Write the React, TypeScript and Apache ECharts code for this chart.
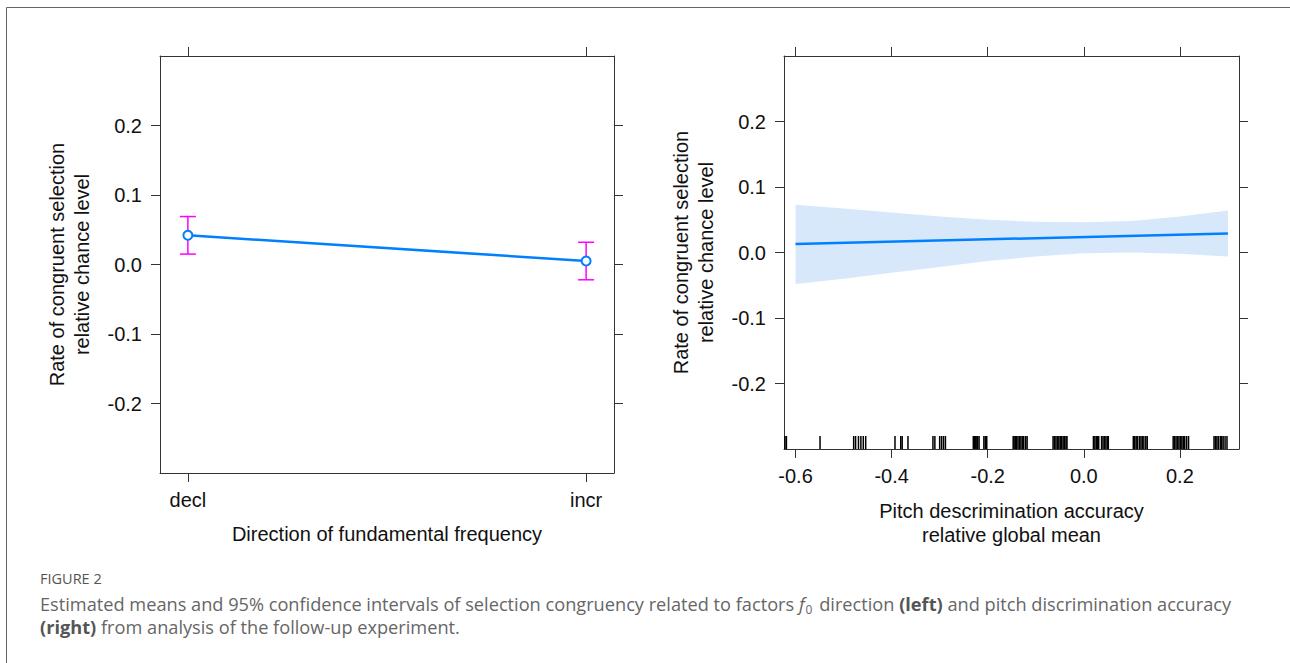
import React, { useEffect, useRef } from "react";
import * as echarts from "echarts";

// ---- Left panel: f0 direction ----
const directionCategories = ["decl", "incr"];
const directionPositions = [1, 2];
const directionEstimates = [0.042, 0.005];
const directionLower = [0.015, -0.022];
const directionUpper = [0.069, 0.032];

// ---- Shared y ticks ----
const yTickValues = [-0.2, -0.1, 0.0, 0.1, 0.2];

// ---- Right panel: pitch discrimination accuracy ----
const pitchTickValues = [-0.6, -0.4, -0.2, 0.0, 0.2];
const pitchFitX = [-0.6, 0.3];
const pitchFitY = [0.013, 0.029];
const pitchBandX = [-0.6, -0.5, -0.4, -0.3, -0.2, -0.1, 0.0, 0.1, 0.2, 0.3];
const pitchBandUpper = [0.073, 0.067, 0.061, 0.055, 0.05, 0.047, 0.046, 0.048, 0.055, 0.064];
const pitchBandLower = [-0.048, -0.04, -0.031, -0.022, -0.013, -0.006, -0.001, 0.0, -0.002, -0.006];
const pitchRug = [
  -0.622, -0.619,
  -0.549,
  -0.479, -0.475, -0.469, -0.464, -0.459, -0.454,
  -0.393, -0.381, -0.378, -0.366,
  -0.314, -0.310, -0.300, -0.296, -0.292, -0.288,
  -0.230, -0.228, -0.226, -0.224, -0.221, -0.218, -0.208, -0.205, -0.202,
  -0.147, -0.145, -0.142, -0.140, -0.137, -0.134, -0.131, -0.128, -0.125, -0.121, -0.118,
  -0.064, -0.061, -0.058, -0.055, -0.052, -0.049, -0.046, -0.043, -0.040, -0.037, -0.035,
  0.020, 0.023, 0.026, 0.029, 0.031, 0.037, 0.040, 0.043, 0.046, 0.049, 0.051,
  0.103, 0.106, 0.109, 0.112, 0.116, 0.119, 0.122, 0.125, 0.129, 0.132,
  0.186, 0.189, 0.192, 0.195, 0.198, 0.201, 0.204, 0.207, 0.210, 0.214, 0.218,
  0.271, 0.274, 0.277, 0.280, 0.284, 0.287, 0.290, 0.294, 0.298,
];

const Y_MIN = -0.3;
const Y_MAX = 0.3;

const FONT = "'Liberation Sans', Arial, Helvetica, sans-serif";
const CAPTION_FONT = "'Open Sans', 'Noto Sans', sans-serif";
const BOX = "#333333";
const BLUE = "#0080ff";
const MAGENTA = "#ff00ff";
const CAP_SIZE = 18.2;

const fmt = (v: number) => (Math.abs(v) < 1e-9 ? "0.0" : v.toFixed(1));

function makeX(gridIndex: number, position: "top" | "bottom", min: number, max: number, ticks: number[], labels: boolean, formatter?: (v: number) => string) {
  return {
    type: "value",
    gridIndex,
    position,
    min,
    max,
    axisLine: { show: true, onZero: false, lineStyle: { color: BOX, width: 1 } },
    axisTick: { show: true, length: 9, customValues: ticks, lineStyle: { color: BOX, width: 1 } },
    axisLabel: labels
      ? { show: true, customValues: ticks, formatter, fontSize: 20, fontFamily: FONT, color: "#111", margin: 17 }
      : { show: false },
    splitLine: { show: false },
  };
}

function makeY(gridIndex: number, position: "left" | "right", labels: boolean) {
  return {
    type: "value",
    gridIndex,
    position,
    min: Y_MIN,
    max: Y_MAX,
    axisLine: { show: true, onZero: false, lineStyle: { color: BOX, width: 1 } },
    axisTick: { show: true, length: 9, customValues: yTickValues, lineStyle: { color: BOX, width: 1 } },
    axisLabel: labels
      ? { show: true, customValues: yTickValues, formatter: fmt, fontSize: 20, fontFamily: FONT, color: "#111", margin: 18 }
      : { show: false },
    splitLine: { show: false },
  };
}

export default function App() {
  const ref = useRef<HTMLDivElement>(null);

  useEffect(() => {
    if (!ref.current) return;
    const chart = echarts.init(ref.current, null, { renderer: "svg" });

    const catFormatter = (v: number) => {
      const i = directionPositions.indexOf(v);
      return i >= 0 ? directionCategories[i] : "";
    };

    const option: any = {
      animation: false,
      backgroundColor: "#ffffff",
      textStyle: { fontFamily: FONT },
      grid: [
        { left: 160, top: 56, width: 454, height: 417 },
        { left: 784, top: 56, width: 455, height: 393 },
      ],
      xAxis: [
        makeX(0, "bottom", 0.93, 2.07, directionPositions, true, catFormatter),
        makeX(0, "top", 0.93, 2.07, directionPositions, false),
        makeX(1, "bottom", -0.624, 0.323, pitchTickValues, true, fmt),
        makeX(1, "top", -0.624, 0.323, pitchTickValues, false),
      ],
      yAxis: [
        makeY(0, "left", true),
        makeY(0, "right", false),
        makeY(1, "left", true),
        makeY(1, "right", false),
      ],
      series: [
        {
          name: "CI",
          type: "custom",
          xAxisIndex: 0,
          yAxisIndex: 0,
          z: 3,
          data: directionPositions.map((x, i) => [x, directionLower[i], directionUpper[i]]),
          renderItem: (params: any, api: any) => {
            const x = api.value(0);
            const lo = api.coord([x, api.value(1)]);
            const hi = api.coord([x, api.value(2)]);
            const w = 8;
            const style = { stroke: MAGENTA, lineWidth: 1.5 };
            return {
              type: "group",
              children: [
                { type: "line", shape: { x1: lo[0], y1: lo[1], x2: hi[0], y2: hi[1] }, style },
                { type: "line", shape: { x1: lo[0] - w, y1: lo[1], x2: lo[0] + w, y2: lo[1] }, style },
                { type: "line", shape: { x1: hi[0] - w, y1: hi[1], x2: hi[0] + w, y2: hi[1] }, style },
              ],
            };
          },
        },
        {
          name: "Estimate",
          type: "line",
          xAxisIndex: 0,
          yAxisIndex: 0,
          z: 4,
          data: directionPositions.map((x, i) => [x, directionEstimates[i]]),
          symbol: "emptyCircle",
          symbolSize: 9,
          lineStyle: { color: BLUE, width: 2.5 },
          itemStyle: { color: BLUE, borderColor: BLUE, borderWidth: 2.2 },
        },
        {
          name: "Band",
          type: "custom",
          xAxisIndex: 2,
          yAxisIndex: 2,
          z: 2,
          data: pitchBandX.map((x, i) => [x, pitchBandLower[i], pitchBandUpper[i]]),
          renderItem: (params: any, api: any) => {
            if (params.dataIndex !== 0) return null;
            const pts: number[][] = [];
            for (let i = 0; i < pitchBandX.length; i++) pts.push(api.coord([pitchBandX[i], pitchBandUpper[i]]));
            for (let i = pitchBandX.length - 1; i >= 0; i--) pts.push(api.coord([pitchBandX[i], pitchBandLower[i]]));
            return { type: "polygon", shape: { points: pts }, style: { fill: "#d7e8fb", stroke: null } };
          },
        },
        {
          name: "Fit",
          type: "line",
          xAxisIndex: 2,
          yAxisIndex: 2,
          z: 4,
          data: pitchFitX.map((x, i) => [x, pitchFitY[i]]),
          symbol: "none",
          lineStyle: { color: BLUE, width: 2.5 },
        },
        {
          name: "Rug",
          type: "custom",
          xAxisIndex: 2,
          yAxisIndex: 2,
          z: 3,
          data: pitchRug.map((v) => [v, Y_MIN]),
          renderItem: (params: any, api: any) => {
            const p = api.coord([api.value(0), api.value(1)]);
            return {
              type: "line",
              shape: { x1: p[0], y1: p[1], x2: p[0], y2: p[1] - 13 },
              style: { stroke: "#000", lineWidth: 1.5 },
            };
          },
        },
      ],
      graphic: [
        {
          type: "rect",
          shape: { x: 6.5, y: 7.5, width: 1400, height: 800 },
          style: { fill: "none", stroke: "#666", lineWidth: 1 },
          silent: true,
        },
        {
          type: "text",
          x: 69,
          y: 264.5,
          rotation: Math.PI / 2,
          style: {
            text: "Rate of congruent selection\nrelative chance level",
            font: `20px ${FONT}`,
            fill: "#111",
            align: "center",
            verticalAlign: "middle",
            lineHeight: 25,
          },
        },
        {
          type: "text",
          x: 693.5,
          y: 252.5,
          rotation: Math.PI / 2,
          style: {
            text: "Rate of congruent selection\nrelative chance level",
            font: `20px ${FONT}`,
            fill: "#111",
            align: "center",
            verticalAlign: "middle",
            lineHeight: 25,
          },
        },
        {
          type: "text",
          x: 387,
          y: 534,
          style: {
            text: "Direction of fundamental frequency",
            font: `20px ${FONT}`,
            fill: "#111",
            align: "center",
            verticalAlign: "middle",
          },
        },
        {
          type: "text",
          x: 1011.5,
          y: 523,
          style: {
            text: "Pitch descrimination accuracy\nrelative global mean",
            font: `20px ${FONT}`,
            fill: "#111",
            align: "center",
            verticalAlign: "middle",
            lineHeight: 24,
          },
        },
        {
          type: "text",
          x: 40,
          y: 578,
          style: {
            text: "FIGURE 2",
            font: `14.5px ${CAPTION_FONT}`,
            fill: "#555",
            align: "left",
            verticalAlign: "middle",
          },
        },
        {
          type: "text",
          x: 40,
          y: 604,
          style: {
            text:
              "{n|Estimated means and 95% confidence intervals of selection congruency related to factors }{i|f}{s|0}{n| direction }{b|(left)}{n| and pitch discrimination accuracy}",
            align: "left",
            verticalAlign: "middle",
            rich: {
              n: { font: `${CAP_SIZE}px ${CAPTION_FONT}`, fill: "#666", lineHeight: 22 },
              i: { font: `italic ${CAP_SIZE}px ${CAPTION_FONT}`, fill: "#666", lineHeight: 22 },
              s: { font: `12px ${CAPTION_FONT}`, fill: "#666", lineHeight: 22, verticalAlign: "bottom", padding: [0, 2, 0, 1] },
              b: { font: `bold ${CAP_SIZE}px ${CAPTION_FONT}`, fill: "#555", lineHeight: 22 },
            },
          },
        },
        {
          type: "text",
          x: 40,
          y: 627,
          style: {
            text: "{b|(right)}{n| from analysis of the follow-up experiment.}",
            align: "left",
            verticalAlign: "middle",
            rich: {
              n: { font: `${CAP_SIZE}px ${CAPTION_FONT}`, fill: "#666", lineHeight: 22 },
              b: { font: `bold ${CAP_SIZE}px ${CAPTION_FONT}`, fill: "#555", lineHeight: 22 },
            },
          },
        },
      ],
    };

    chart.setOption(option);
    return () => chart.dispose();
  }, []);

  return (
    <div
      ref={ref}
      style={{ position: "absolute", left: 0, top: 0, width: 1290, height: 663, background: "#fff" }}
    />
  );
}
